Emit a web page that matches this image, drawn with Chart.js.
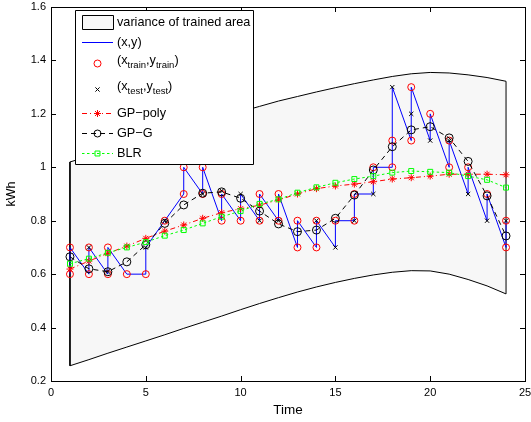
<!DOCTYPE html>
<html lang="en">
<head>
<meta charset="UTF-8">
<title>kWh over time - GP vs BLR</title>
<script src="https://cdn.jsdelivr.net/npm/chart.js"></script>
<style>
  html, body { margin: 0; padding: 0; background: #fff; }
  #wrap { width: 531px; height: 422px; }
</style>
</head>
<body>
<div id="wrap"><canvas id="c" width="531" height="422"></canvas></div>
<script>
// hours of the day
const hours = [1,2,3,4,5,6,7,8,9,10,11,12,13,14,15,16,17,18,19,20,21,22,23,24];

// variance band (upper / lower edge)
const bandUpper = [1.02,1.041,1.062,1.083,1.104,1.125,1.146,1.166,1.187,1.208,1.228,1.248,
                   1.265,1.282,1.298,1.313,1.327,1.34,1.35,1.355,1.353,1.346,1.336,1.322];
const bandLower = [0.257,0.28,0.304,0.327,0.35,0.373,0.397,0.42,0.443,0.467,0.49,0.512,
                   0.533,0.552,0.569,0.584,0.597,0.607,0.613,0.612,0.6,0.58,0.556,0.526];

// model predictions
const gpPoly = [0.619,0.649,0.678,0.705,0.734,0.761,0.784,0.809,0.83,0.845,0.858,0.878,
                0.9,0.92,0.93,0.937,0.946,0.956,0.961,0.967,0.974,0.974,0.974,0.972];
const gpG = [0.665,0.62,0.609,0.646,0.71,0.79,0.859,0.903,0.908,0.884,0.836,0.788,
             0.759,0.765,0.809,0.896,0.99,1.077,1.14,1.152,1.11,1.022,0.893,0.743];
const blr = [0.639,0.658,0.68,0.70,0.72,0.744,0.765,0.79,0.815,0.836,0.863,0.88,
             0.905,0.925,0.942,0.956,0.967,0.98,0.986,0.983,0.98,0.967,0.953,0.924];

// training points
const trainX = [1,1,2,2,3,3,4,5,6,7,7,8,8,9,9,10,11,11,12,12,13,13,14,14,15,16,16,17,18,18,19,19,20,21,21,22,23,24,24];
const trainY = [0.6,0.7,0.6,0.7,0.6,0.7,0.6,0.6,0.8,0.9,1.0,0.9,1.0,0.8,0.9,0.8,0.8,0.9,0.8,0.9,0.7,0.8,0.7,0.8,
                0.8,0.8,0.9,1.0,1.0,1.1,1.1,1.3,1.2,1.0,1.1,1.0,0.9,0.7,0.8];

// test points
const testX = [2,3,5,6,8,9,10,11,12,14,15,16,17,18,19,20,21,22,23,24];
const testY = [0.7,0.61,0.7,0.8,0.9,0.912,0.9,0.8,0.8,0.8,0.7,0.8,0.9,1.3,1.2,1.1,1.1,0.9,0.8,0.8];

// full measured series (x,y)
const xyX = [1,1,2,2,3,3,4,4,5,5,6,6,7,7,8,8,9,9,10,10,11,11,12,12,13,13,14,14,15,15,16,16,17,17,
             18,18,18,19,19,19,20,20,21,21,22,22,23,23,24,24];
const xyY = [0.6,0.7,0.6,0.7,0.6,0.7,0.6,0.6,0.6,0.7,0.8,0.8,0.9,1.0,0.9,1.0,0.8,0.9,0.8,0.9,0.8,0.9,
             0.8,0.9,0.7,0.8,0.7,0.8,0.7,0.8,0.8,0.9,0.9,1.0,1.0,1.1,1.3,1.1,1.2,1.3,1.1,1.2,1.0,1.1,
             0.9,1.0,0.8,0.9,0.7,0.8];

// axis ticks
const xTicks = [0,5,10,15,20,25];
const yTicks = [0.2,0.4,0.6,0.8,1.0,1.2,1.4,1.6];

const FONT = "'Liberation Sans', Arial, Helvetica, sans-serif";
Chart.defaults.font.family = FONT;
Chart.defaults.font.size = 11;
Chart.defaults.color = '#000';

const GREEN = '#00ff00';
const BAND = 'rgb(247,247,247)';

function pts(xs, ys) { return xs.map((x, i) => ({ x: x, y: ys[i] })); }

// closed polygon for the band
const bandPts = pts(hours, bandLower)
  .concat(pts(hours, bandUpper).reverse())
  .concat([{ x: hours[0], y: bandLower[0] }]);

// frame + inward ticks, like matlab
const framePlugin = {
  id: 'frame',
  afterDatasetsDraw(chart) {
    const ctx = chart.ctx, a = chart.chartArea;
    const xs = chart.scales.x, ys = chart.scales.y;
    ctx.save();
    ctx.strokeStyle = '#000';
    ctx.lineWidth = 1;
    ctx.setLineDash([]);
    ctx.strokeRect(Math.round(a.left) + 0.5, Math.round(a.top) + 0.5,
                   Math.round(a.right - a.left), Math.round(a.bottom - a.top));
    ctx.beginPath();
    xTicks.forEach(v => {
      const p = Math.round(xs.getPixelForValue(v)) + 0.5;
      ctx.moveTo(p, a.bottom); ctx.lineTo(p, a.bottom - 5);
      ctx.moveTo(p, a.top); ctx.lineTo(p, a.top + 5);
    });
    yTicks.forEach(v => {
      const p = Math.round(ys.getPixelForValue(v)) + 0.5;
      ctx.moveTo(a.left, p); ctx.lineTo(a.left + 5, p);
      ctx.moveTo(a.right, p); ctx.lineTo(a.right - 5, p);
    });
    ctx.stroke();
    ctx.restore();
  }
};

// legend drawn by hand (needs subscripts + line/marker samples)
const legendPlugin = {
  id: 'mlegend',
  afterDraw(chart) {
    const ctx = chart.ctx, a = chart.chartArea;
    const bx = Math.round(a.left) + 24, by = Math.round(a.top) + 3, bw = 178, bh = 154;
    ctx.save();
    ctx.setLineDash([]);
    ctx.lineWidth = 1;
    ctx.strokeStyle = '#000';
    ctx.fillStyle = '#ffffff';
    ctx.beginPath();
    ctx.rect(bx + 0.5, by + 0.5, bw, bh);
    ctx.fill();
    ctx.stroke();

    const x0 = bx + 7, x1 = bx + 38, xm = (x0 + x1) / 2, tx = bx + 42;
    const rows = [by + 12, by + 32, by + 53, by + 79, by + 103, by + 123, by + 143];

    // band swatch
    ctx.beginPath();
    ctx.rect(x0 + 0.5, rows[0] - 7 + 0.5, x1 - x0, 14);
    ctx.fillStyle = BAND;
    ctx.fill();
    ctx.strokeStyle = '#000';
    ctx.stroke();

    function sample(y, color, dash, style, r) {
      if (dash) {
        ctx.strokeStyle = color; ctx.lineWidth = 1; ctx.setLineDash(dash);
        ctx.beginPath(); ctx.moveTo(x0, y + 0.5); ctx.lineTo(x1, y + 0.5); ctx.stroke();
        ctx.setLineDash([]);
      }
      if (style) {
        ctx.strokeStyle = color; ctx.fillStyle = 'rgba(0,0,0,0)'; ctx.lineWidth = 1;
        Chart.helpers.drawPoint(ctx, { pointStyle: style, radius: r, borderWidth: 1, rotation: 0 }, xm, y + 0.5);
      }
    }
    sample(rows[1], '#0000ff', [], null, 0);
    sample(rows[2], '#ff0000', null, 'circle', 3.5);
    sample(rows[3], '#000', null, 'crossRot', 3);
    sample(rows[4], '#ff0000', [5, 3, 1, 3], 'star', 3.5);
    sample(rows[5], '#000', [5, 4], 'circle', 3.5);
    sample(rows[6], GREEN, [2.5, 2.5], 'rect', 3.5);

    ctx.fillStyle = '#000';
    ctx.textBaseline = 'middle';
    ctx.textAlign = 'left';
    function rich(parts, x, y) {
      parts.forEach(p => {
        const sub = p[1];
        ctx.font = (sub ? '9.5px ' : '12.7px ') + FONT;
        ctx.fillText(p[0], x, y + (sub ? 5 : 0));
        x += ctx.measureText(p[0]).width;
      });
    }
    rich([['variance of trained area', 0]], tx, rows[0]);
    rich([['(x,y)', 0]], tx, rows[1]);
    rich([['(x', 0], ['train', 1], [',y', 0], ['train', 1], [')', 0]], tx, rows[2] - 3);
    rich([['(x', 0], ['test', 1], [',y', 0], ['test', 1], [')', 0]], tx, rows[3] - 3);
    rich([['GP\u2212poly', 0]], tx, rows[4]);
    rich([['GP\u2212G', 0]], tx, rows[5]);
    rich([['BLR', 0]], tx, rows[6]);
    ctx.restore();
  }
};

const noFill = 'rgba(0,0,0,0)';

new Chart(document.getElementById('c'), {
  type: 'scatter',
  data: {
    datasets: [
      {
        label: 'variance of trained area',
        data: bandPts,
        showLine: true,
        fill: 'shape',
        backgroundColor: BAND,
        borderColor: '#000',
        borderWidth: 1,
        pointRadius: 0,
        order: 10
      },
      {
        label: '(x,y)',
        data: pts(xyX, xyY),
        showLine: true,
        borderColor: '#0000ff',
        borderWidth: 1,
        pointRadius: 0,
        order: 6
      },
      {
        label: 'train',
        data: pts(trainX, trainY),
        pointStyle: 'circle',
        pointRadius: 3.5,
        borderColor: '#ff0000',
        backgroundColor: noFill,
        borderWidth: 1,
        order: 5
      },
      {
        label: 'test',
        data: pts(testX, testY),
        pointStyle: 'crossRot',
        pointRadius: 3,
        borderColor: '#000',
        backgroundColor: noFill,
        borderWidth: 1,
        order: 4
      },
      {
        label: 'GP-poly',
        data: pts(hours, gpPoly),
        showLine: true,
        borderDash: [5, 3, 1, 3],
        pointStyle: 'star',
        pointRadius: 3.5,
        borderColor: '#ff0000',
        backgroundColor: noFill,
        borderWidth: 1,
        order: 3
      },
      {
        label: 'GP-G',
        data: pts(hours, gpG),
        showLine: true,
        borderDash: [5, 4],
        pointStyle: 'circle',
        pointRadius: 4,
        borderColor: '#000',
        backgroundColor: noFill,
        borderWidth: 1,
        order: 2
      },
      {
        label: 'BLR',
        data: pts(hours, blr),
        showLine: true,
        borderDash: [2.5, 2.5],
        pointStyle: 'rect',
        pointRadius: 3.5,
        borderColor: GREEN,
        backgroundColor: noFill,
        borderWidth: 1,
        order: 1
      }
    ]
  },
  options: {
    responsive: false,
    animation: false,
    events: [],
    layout: { padding: { left: 0, right: 6, top: 7, bottom: 0 } },
    plugins: { legend: { display: false }, tooltip: { enabled: false } },
    scales: {
      x: {
        type: 'linear',
        min: 0, max: 25,
        afterBuildTicks: s => { s.ticks = xTicks.map(v => ({ value: v })); },
        afterFit: s => { s.height = 41; s.paddingLeft = 0; s.paddingRight = 0; },
        grid: { display: false, drawTicks: false },
        border: { display: false },
        ticks: { padding: 5, maxRotation: 0 },
        title: { display: true, text: 'Time', font: { size: 13.5 }, padding: { top: 0, bottom: 4 } }
      },
      y: {
        min: 0.2, max: 1.6,
        afterBuildTicks: s => { s.ticks = yTicks.map(v => ({ value: v })); },
        afterFit: s => { s.width = 51; s.paddingTop = 0; s.paddingBottom = 0; },
        grid: { display: false, drawTicks: false },
        border: { display: false },
        ticks: { padding: 5, callback: v => String(+v.toFixed(1)) },
        title: { display: true, text: 'kWh', font: { size: 12.5 }, padding: { top: 4, bottom: 0 } }
      }
    }
  },
  plugins: [framePlugin, legendPlugin]
});
</script>
</body>
</html>
